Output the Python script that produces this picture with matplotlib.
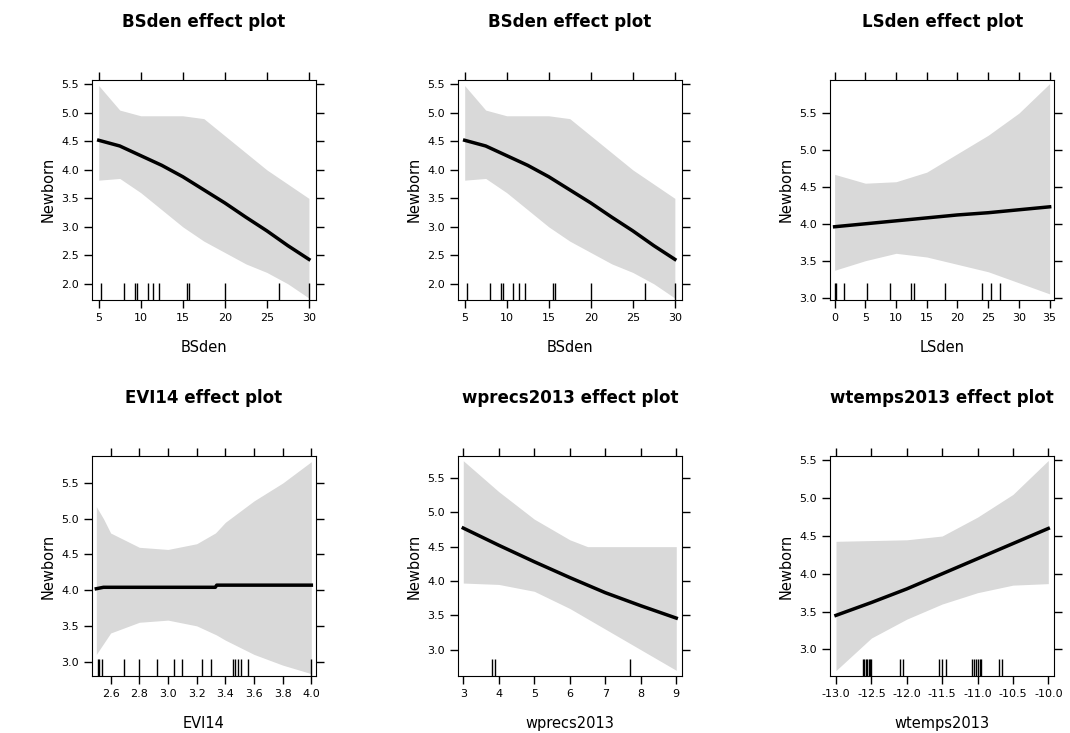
import numpy as np
import matplotlib
matplotlib.use("Agg")
import matplotlib.pyplot as plt

# BSden
bs_x = [5, 7.5, 10, 12.5, 15, 17.5, 20, 22.5, 25, 27.5, 30]
bs_fit = [4.52, 4.42, 4.25, 4.08, 3.88, 3.65, 3.42, 3.17, 2.93, 2.67, 2.43]
bs_up = [5.48, 5.05, 4.95, 4.95, 4.95, 4.9, 4.6, 4.3, 4.0, 3.75, 3.5]
bs_lo = [3.82, 3.85, 3.6, 3.3, 3.0, 2.75, 2.55, 2.35, 2.2, 2.0, 1.75]
bs_rug = [5.3, 8, 9.3, 9.5, 10.8, 11.5, 12.2, 15.5, 15.7, 20, 26.5, 30]
# LSden
ls_x = [0, 5, 10, 15, 20, 25, 30, 35]
ls_fit = [3.96, 4.0, 4.04, 4.08, 4.12, 4.15, 4.19, 4.23]
ls_up = [4.67, 4.55, 4.57, 4.7, 4.95, 5.2, 5.5, 5.9]
ls_lo = [3.37, 3.5, 3.6, 3.55, 3.45, 3.35, 3.2, 3.05]
ls_rug = [0, 0.3, 1.5, 5.2, 9, 12.5, 13, 18, 24, 25.5, 27]
# EVI14
ev_x = [2.5, 2.55, 2.6, 2.8, 3.0, 3.2, 3.33, 3.34, 3.4, 3.6, 3.8, 4.0]
ev_fit = [4.02, 4.04, 4.04, 4.04, 4.04, 4.04, 4.04, 4.07, 4.07, 4.07, 4.07, 4.07]
ev_up = [5.17, 5.0, 4.8, 4.6, 4.57, 4.65, 4.8, 4.82, 4.95, 5.25, 5.5, 5.8]
ev_lo = [3.1, 3.25, 3.4, 3.55, 3.58, 3.5, 3.38, 3.37, 3.3, 3.1, 2.95, 2.83]
ev_rug = [2.51, 2.52, 2.54, 2.69, 2.8, 2.92, 3.04, 3.1, 3.24, 3.3, 3.45, 3.47, 3.49, 3.51, 3.56, 4.0]
# wprecs2013
wp_x = [3, 4, 5, 6, 6.5, 7, 8, 9]
wp_fit = [4.77, 4.52, 4.28, 4.05, 3.94, 3.83, 3.64, 3.46]
wp_up = [5.75, 5.3, 4.9, 4.6, 4.5, 4.5, 4.5, 4.5]
wp_lo = [3.97, 3.95, 3.85, 3.6, 3.45, 3.3, 3.0, 2.7]
wp_rug = [3.8, 3.9, 7.7]
# wtemps2013
wt_x = [-13, -12.5, -12, -11.5, -11, -10.5, -10]
wt_fit = [3.45, 3.62, 3.8, 4.0, 4.2, 4.4, 4.6]
wt_up = [4.43, 4.44, 4.45, 4.5, 4.75, 5.05, 5.5]
wt_lo = [2.72, 3.15, 3.4, 3.6, 3.75, 3.85, 3.87]
wt_rug = [-12.62, -12.6, -12.58, -12.56, -12.54, -12.52, -12.5, -12.1, -12.05,
          -11.55, -11.5, -11.45, -11.08, -11.05, -11.02, -11.0, -10.97, -10.95, -10.7, -10.65]

panels = [
    ("BSden", bs_x, bs_fit, bs_up, bs_lo, bs_rug, (4.2, 30.8), [5, 10, 15, 20, 25, 30], (1.72, 5.58), [2.0, 2.5, 3.0, 3.5, 4.0, 4.5, 5.0, 5.5]),
    ("BSden", bs_x, bs_fit, bs_up, bs_lo, bs_rug, (4.2, 30.8), [5, 10, 15, 20, 25, 30], (1.72, 5.58), [2.0, 2.5, 3.0, 3.5, 4.0, 4.5, 5.0, 5.5]),
    ("LSden", ls_x, ls_fit, ls_up, ls_lo, ls_rug, (-0.7, 35.7), [0, 5, 10, 15, 20, 25, 30, 35], (2.97, 5.95), [3.0, 3.5, 4.0, 4.5, 5.0, 5.5]),
    ("EVI14", ev_x, ev_fit, ev_up, ev_lo, ev_rug, (2.47, 4.03), [2.6, 2.8, 3.0, 3.2, 3.4, 3.6, 3.8, 4.0], (2.8, 5.88), [3.0, 3.5, 4.0, 4.5, 5.0, 5.5]),
    ("wprecs2013", wp_x, wp_fit, wp_up, wp_lo, wp_rug, (2.85, 9.15), [3, 4, 5, 6, 7, 8, 9], (2.62, 5.82), [3.0, 3.5, 4.0, 4.5, 5.0, 5.5]),
    ("wtemps2013", wt_x, wt_fit, wt_up, wt_lo, wt_rug, (-13.08, -9.92), [-13.0, -12.5, -12.0, -11.5, -11.0, -10.5, -10.0], (2.65, 5.56), [3.0, 3.5, 4.0, 4.5, 5.0, 5.5]),
]

fig = plt.figure(figsize=(10.7, 7.33), dpi=100)
lefts = [0.086, 0.428, 0.776]
bottoms = [0.591, 0.078]
for i, (name, x, fit, up, lo, rug, xl, xt, yl, yt) in enumerate(panels):
    ax = fig.add_axes([lefts[i % 3], bottoms[i // 3], 0.209, 0.30])
    ax.fill_between(x, lo, up, color="#d9d9d9", lw=0)
    ax.plot(x, fit, color="black", lw=2.5)
    ax.set_xlim(*xl)
    ax.set_ylim(*yl)
    h = (yl[1] - yl[0]) * 0.075
    ax.vlines(rug, yl[0], yl[0] + h, color="black", lw=1)
    ax.set_xticks(xt)
    ax.set_xticklabels([f"{v:g}" if name not in ("EVI14", "wtemps2013") else f"{v:.1f}" for v in xt])
    ax.set_yticks(yt)
    ax.set_yticklabels([f"{v:.1f}" for v in yt])
    ax.tick_params(direction="out", length=6, width=1, labelsize=8,
                   top=True, right=True, labeltop=False, labelright=False)
    for s in ax.spines.values():
        s.set_linewidth(0.8)
    ax.set_xlabel(name, fontsize=10.5, labelpad=12)
    ax.set_ylabel("Newborn", fontsize=10.5)
    ax.set_title(f"{name} effect plot", fontsize=12, fontweight="bold", pad=38)

fig.savefig("out.png", dpi=100)
